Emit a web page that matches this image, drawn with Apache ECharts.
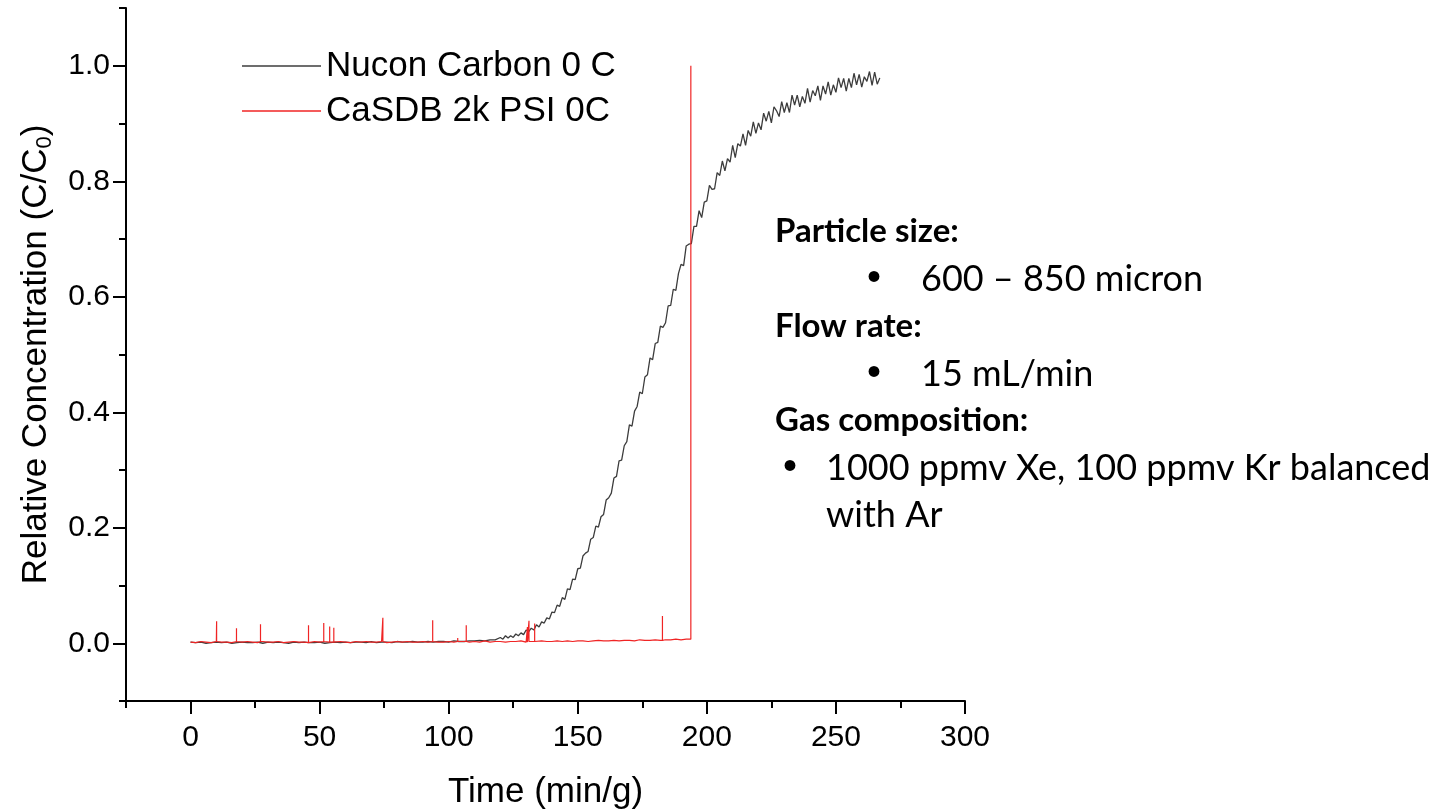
<!DOCTYPE html>
<html>
<head>
<meta charset="utf-8">
<title>Breakthrough curves</title>
<script src="https://cdn.jsdelivr.net/npm/echarts@6.0.0/dist/echarts.min.js"></script>
<style>
  html, body { margin: 0; padding: 0; background: #fff; }
  #chart { width: 1439px; height: 812px; }
</style>
</head>
<body>
<div id="chart"></div>
<script>
// tick positions
const xMajor = [0, 50, 100, 150, 200, 250, 300]
const xMinor = [-25, 25, 75, 125, 175, 225, 275]
const yMajor = [0, 0.2, 0.4, 0.6, 0.8, 1.0]
const yMinor = [-0.1, 0.1, 0.3, 0.5, 0.7, 0.9, 1.1]

const seriesNames = ['Nucon Carbon 0 C', 'CaSDB 2k PSI 0C']

// Nucon Carbon: flat part, x = 0, 2, 4 ... 118
const nuconFlat = [
  0.002, 0.001, 0.002, 0.000, 0.001, 0.002, 0.001, 0.002, 0.000, 0.001,
  0.002, 0.001, 0.001, 0.002, 0.000, 0.002, 0.001, 0.002, 0.001, 0.000,
  0.002, 0.001, 0.002, 0.001, 0.001, 0.002, 0.000, 0.001, 0.002, 0.001,
  0.002, 0.001, 0.002, 0.002, 0.001, 0.003, 0.001, 0.002, 0.002, 0.001,
  0.003, 0.002, 0.002, 0.003, 0.002, 0.002, 0.003, 0.002, 0.003, 0.003,
  0.002, 0.004, 0.003, 0.003, 0.004, 0.004, 0.005, 0.004, 0.006, 0.006
]
const nuconFlatStep = 2

// Nucon Carbon: breakthrough part, x = 120, 121 ... 267
const nuconRiseStart = 120
const nuconRise = [
  0.010, 0.007, 0.013, 0.009, 0.013, 0.010, 0.016, 0.013, 0.018, 0.015,
  0.023, 0.020, 0.026, 0.023, 0.032, 0.028, 0.037, 0.035, 0.044, 0.042,
  0.054, 0.053, 0.066, 0.064, 0.079, 0.076, 0.094, 0.093, 0.111, 0.110,
  0.129, 0.130, 0.151, 0.156, 0.159, 0.180, 0.183, 0.203, 0.201, 0.219,
  0.223, 0.248, 0.252, 0.260, 0.286, 0.289, 0.316, 0.317, 0.342, 0.349,
  0.378, 0.376, 0.402, 0.410, 0.435, 0.432, 0.461, 0.465, 0.494, 0.491,
  0.519, 0.521, 0.549, 0.547, 0.555, 0.584, 0.585, 0.613, 0.611, 0.640,
  0.656, 0.654, 0.688, 0.691, 0.692, 0.722, 0.722, 0.749, 0.737, 0.764,
  0.766, 0.793, 0.786, 0.787, 0.815, 0.810, 0.835, 0.818, 0.839, 0.833,
  0.862, 0.841, 0.865, 0.861, 0.882, 0.862, 0.888, 0.878, 0.903, 0.883,
  0.901, 0.889, 0.918, 0.904, 0.921, 0.901, 0.929, 0.922, 0.912, 0.938,
  0.919, 0.936, 0.919, 0.949, 0.932, 0.949, 0.929, 0.947, 0.935, 0.961,
  0.937, 0.957, 0.948, 0.965, 0.940, 0.965, 0.951, 0.972, 0.949, 0.967,
  0.954, 0.979, 0.962, 0.978, 0.956, 0.978, 0.962, 0.987, 0.967, 0.985,
  0.963, 0.981, 0.973, 0.990, 0.966, 0.989, 0.968, 0.979
]

// CaSDB baseline, x = 0, 2, 4 ... 192
const casdbBase = [
  0.002, 0.001, 0.003, 0.002, 0.001, 0.003, 0.002, 0.002, 0.001, 0.003,
  0.002, 0.003, 0.002, 0.001, 0.003, 0.002, 0.002, 0.003, 0.001, 0.002,
  0.003, 0.002, 0.002, 0.001, 0.003, 0.002, 0.003, 0.002, 0.002, 0.003,
  0.002, 0.001, 0.003, 0.002, 0.003, 0.002, 0.002, 0.003, 0.001, 0.002,
  0.003, 0.002, 0.003, 0.002, 0.002, 0.003, 0.002, 0.003, 0.002, 0.002,
  0.003, 0.002, 0.003, 0.003, 0.002, 0.003, 0.002, 0.004, 0.002, 0.003,
  0.003, 0.002, 0.003, 0.003, 0.004, 0.002, 0.003, 0.003, 0.004, 0.003,
  0.003, 0.004, 0.003, 0.004, 0.003, 0.004, 0.004, 0.003, 0.004, 0.005,
  0.004, 0.004, 0.005, 0.004, 0.005, 0.005, 0.004, 0.006, 0.005, 0.005,
  0.006, 0.005, 0.006, 0.006, 0.007, 0.006, 0.007
]
const casdbStep = 2
// narrow spikes [x, peak]
const casdbSpikes = [
  [10.1, 0.038], [17.8, 0.026], [27.1, 0.033], [45.7, 0.031], [51.6, 0.035],
  [53.9, 0.029], [55.5, 0.027], [74.5, 0.044], [93.8, 0.040], [103.5, 0.009],
  [106.8, 0.031], [130.5, 0.028], [131.1, 0.039], [133.3, 0.034], [182.8, 0.047]
]
// final jump [x, top]
const casdbJump = [193.8, 1.0]

const notes = [
  { text: 'Particle size:', x: 775, y: 231, kind: 'head' },
  { text: '•', x: 867, y: 279, kind: 'bullet' },
  { text: '600 – 850 micron', x: 921, y: 279 },
  { text: 'Flow rate:', x: 775, y: 326, kind: 'head' },
  { text: '•', x: 867, y: 374, kind: 'bullet' },
  { text: '15 mL/min', x: 921, y: 374 },
  { text: 'Gas composition:', x: 775, y: 420, kind: 'head' },
  { text: '•', x: 783, y: 468, kind: 'bullet' },
  { text: '1000 ppmv Xe, 100 ppmv Kr balanced', x: 826, y: 468 },
  { text: 'with Ar', x: 826, y: 515 }
]

const axisFont = "'Liberation Sans', Arial, sans-serif"
const noteFonts = {
  head: "bold 33px Lato, 'Open Sans', sans-serif",
  bullet: "40px 'Liberation Sans', Arial, sans-serif",
  body: "36px Lato, 'Open Sans', sans-serif"
}

function buildNucon() {
  const pts = nuconFlat.map((v, i) => [i * nuconFlatStep, v])
  nuconRise.forEach((v, i) => pts.push([nuconRiseStart + i, v]))
  return pts
}

function buildCasdb() {
  const pts = casdbBase.map((v, i) => [i * casdbStep, v])
  casdbSpikes.forEach(([x, peak]) => {
    const base = casdbBase[Math.min(casdbBase.length - 1, Math.round(x / casdbStep))]
    pts.push([x, base], [x, peak], [x, base])
  })
  pts.sort((a, b) => a[0] - b[0])
  const last = casdbBase[casdbBase.length - 1]
  pts.push([casdbJump[0], last], [casdbJump[0], casdbJump[1]])
  return pts
}

const chart = echarts.init(document.getElementById('chart'))

const axisLineStyle = { color: '#000', width: 2 }

chart.setOption({
  animation: false,
  backgroundColor: '#fff',
  grid: { left: 126, right: 474, top: 8, bottom: 111, outerBoundsMode: 'none' },
  legend: {
    data: seriesNames,
    orient: 'vertical',
    left: 237,
    top: 41,
    icon: 'rect',
    itemWidth: 79,
    itemHeight: 1.5,
    itemGap: 5,
    selectedMode: false,
    textStyle: { fontSize: 35, lineHeight: 40, color: '#000', fontFamily: axisFont, padding: [0, 0, 0, 0] }
  },
  xAxis: [
    {
      type: 'value',
      min: -25,
      max: 300,
      position: 'bottom',
      axisLine: { show: true, onZero: false, lineStyle: axisLineStyle },
      axisTick: { show: true, customValues: xMajor, length: 13, lineStyle: axisLineStyle },
      axisLabel: { customValues: xMajor, fontSize: 30, color: '#000', fontFamily: axisFont, margin: 22 },
      splitLine: { show: false },
      name: 'Time (min/g)',
      nameLocation: 'middle',
      nameGap: 74,
      nameTextStyle: { fontSize: 35, color: '#000', fontFamily: axisFont }
    },
    {
      type: 'value',
      min: -25,
      max: 300,
      position: 'bottom',
      axisLine: { show: false, onZero: false },
      axisTick: { show: true, customValues: xMinor, length: 7, lineStyle: axisLineStyle },
      axisLabel: { show: false },
      splitLine: { show: false }
    }
  ],
  yAxis: [
    {
      type: 'value',
      min: -0.1,
      max: 1.1,
      position: 'left',
      axisLine: { show: true, onZero: false, lineStyle: axisLineStyle },
      axisTick: { show: true, customValues: yMajor, length: 13, lineStyle: axisLineStyle },
      axisLabel: {
        customValues: yMajor,
        formatter: v => v.toFixed(1),
        fontSize: 30, color: '#000', fontFamily: axisFont, margin: 16
      },
      splitLine: { show: false },
      name: 'Relative Concentration (C/C{sub|0})',
      nameLocation: 'middle',
      nameGap: 70,
      nameTextStyle: {
        fontSize: 35, lineHeight: 40, color: '#000', fontFamily: axisFont,
        rich: {
          sub: { fontSize: 22, lineHeight: 22, padding: [18, 0, 0, 0], verticalAlign: 'top', color: '#000', fontFamily: axisFont }
        }
      }
    },
    {
      type: 'value',
      min: -0.1,
      max: 1.1,
      position: 'left',
      axisLine: { show: false, onZero: false },
      axisTick: { show: true, customValues: yMinor, length: 7, lineStyle: axisLineStyle },
      axisLabel: { show: false },
      splitLine: { show: false }
    }
  ],
  series: [
    {
      name: seriesNames[0],
      type: 'line',
      data: buildNucon(),
      symbol: 'none',
      itemStyle: { color: '#3c3c3c' },
      lineStyle: { color: '#3c3c3c', width: 1.3 }
    },
    {
      name: seriesNames[1],
      type: 'line',
      data: buildCasdb(),
      symbol: 'none',
      itemStyle: { color: '#f02424' },
      lineStyle: { color: '#f02424', width: 1.2 }
    }
  ],
  graphic: notes.map(n => ({
    type: 'text',
    x: n.x,
    y: n.y,
    style: {
      text: n.text,
      fill: '#000',
      font: noteFonts[n.kind || 'body'],
      verticalAlign: 'middle'
    }
  }))
})
</script>
</body>
</html>
